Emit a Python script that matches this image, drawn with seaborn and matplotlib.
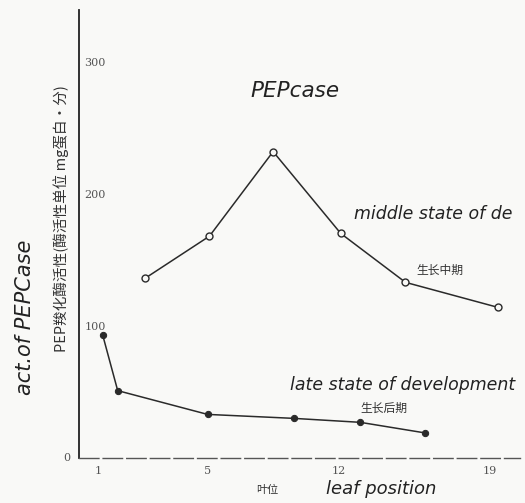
import numpy as np
import matplotlib
matplotlib.use('Agg')
import matplotlib.pyplot as plt
import seaborn as sns
import pandas as pd

# data
mid_leaf = [2.7, 5.1, 8.5, 12.1, 15.1, 19.4]
mid_act = [136, 168, 232, 170, 133, 114]
late_leaf = [1.15, 1.7, 5.0, 9.6, 13.0, 16.0]
late_act = [93, 51, 33, 30, 27, 19]

x_tick_vals = [1, 5, 12, 19]
x_minor_vals = [2.6, 8.5, 15]
y_tick_vals = [100, 200, 300]

# the hand drawn leaf axis is not evenly spaced -> piecewise linear scale
leaf_anchor = [-10, 1, 5, 12, 19, 40]
drawn_anchor = [-11, 0, 4, 8.81, 14.35, 30.97]

def fwd(x):
    return np.interp(x, leaf_anchor, drawn_anchor)

def inv(x):
    return np.interp(x, drawn_anchor, leaf_anchor)

mid = pd.DataFrame({'leaf': mid_leaf, 'act': mid_act})
late = pd.DataFrame({'leaf': late_leaf, 'act': late_act})

sns.set_style('white')
plt.rcParams['font.family'] = ['DejaVu Sans', 'Noto Sans CJK SC']
cjk = ['Noto Sans CJK SC', 'DejaVu Sans']

fig = plt.figure(figsize=(5.25, 5.03), dpi=100, facecolor='#f9f9f7')
ax = fig.add_axes([0.150, 0.0895, 0.84, 0.89])
ax.set_facecolor('#f9f9f7')

sns.lineplot(data=mid, x='leaf', y='act', ax=ax, color='#2a2a2a', lw=1.1,
             marker='o', markersize=5, markerfacecolor='#f9f9f7',
             markeredgecolor='#2a2a2a', markeredgewidth=1)
sns.lineplot(data=late, x='leaf', y='act', ax=ax, color='#2a2a2a', lw=1.1,
             marker='o', markersize=4.5, markerfacecolor='#2a2a2a',
             markeredgecolor='#2a2a2a')

ax.set_xscale('function', functions=(fwd, inv))
ax.set_xlim(0.27, 20.4)
ax.set_ylim(0, 339)

ax.spines['top'].set_visible(False)
ax.spines['right'].set_visible(False)
ax.spines['left'].set_color('#222222')
ax.spines['left'].set_linewidth(1.3)
ax.spines['bottom'].set_color('#555555')
ax.spines['bottom'].set_linewidth(1.0)
ax.spines['bottom'].set_linestyle((0, (14, 3)))

ax.set_yticks(y_tick_vals)
ax.set_yticklabels([str(v) for v in y_tick_vals], fontsize=8, color='#555555',
                   family='DejaVu Serif')
ax.tick_params(axis='y', direction='in', length=4, pad=-4, color='#333333')
for tl in ax.get_yticklabels():
    tl.set_ha('left')
ax.text(-0.02, 0, '0', transform=ax.get_yaxis_transform(), ha='right',
        va='center', fontsize=8, color='#555555', family='DejaVu Serif')

ax.set_xticks(x_tick_vals)
ax.set_xticklabels([str(v) for v in x_tick_vals], fontsize=8, color='#555555',
                   family='DejaVu Serif')
ax.set_xticks(x_minor_vals, minor=True)
ax.tick_params(axis='x', which='both', direction='inout', length=7, pad=2,
               color='#444444')
ax.set_xlabel('')
ax.set_ylabel('')

# hand written notes and printed labels
ax.text(0.49, 0.82, 'PEPcase', transform=ax.transAxes, fontsize=15.5,
        style='italic', color='#222222', ha='center', va='center')
# the scan cuts this note off at the right edge
ax.text(0.625, 0.545, 'middle state of de', transform=ax.transAxes,
        fontsize=12.5, style='italic', color='#222222', ha='left', va='center')
ax.text(0.82, 0.42, '生长中期', transform=ax.transAxes, fontsize=8.5,
        color='#333333', ha='center', va='center', family=cjk)
ax.text(0.48, 0.162, 'late state of development', transform=ax.transAxes,
        fontsize=12.5, style='italic', color='#222222', ha='left', va='center')
ax.text(0.692, 0.112, '生长后期', transform=ax.transAxes, fontsize=8.5,
        color='#333333', ha='center', va='center', family=cjk)

ax.text(-0.04, 0.535, 'PEP羧化酶活性(酶活性单位 mg蛋白·分)', transform=ax.transAxes,
        rotation=90, fontsize=10.5, color='#333333', ha='center', va='center',
        family=cjk)
fig.text(0.048, 0.37, 'act.of PEPCase', rotation=90, fontsize=15,
         style='italic', color='#222222', ha='center', va='center')
fig.text(0.51, 0.025, '叶位', fontsize=8, color='#333333', ha='center',
         va='center', family=cjk)
fig.text(0.726, 0.028, 'leaf position', fontsize=13, style='italic',
         color='#222222', ha='center', va='center')

fig.savefig('out.png', dpi=100, facecolor=fig.get_facecolor())
